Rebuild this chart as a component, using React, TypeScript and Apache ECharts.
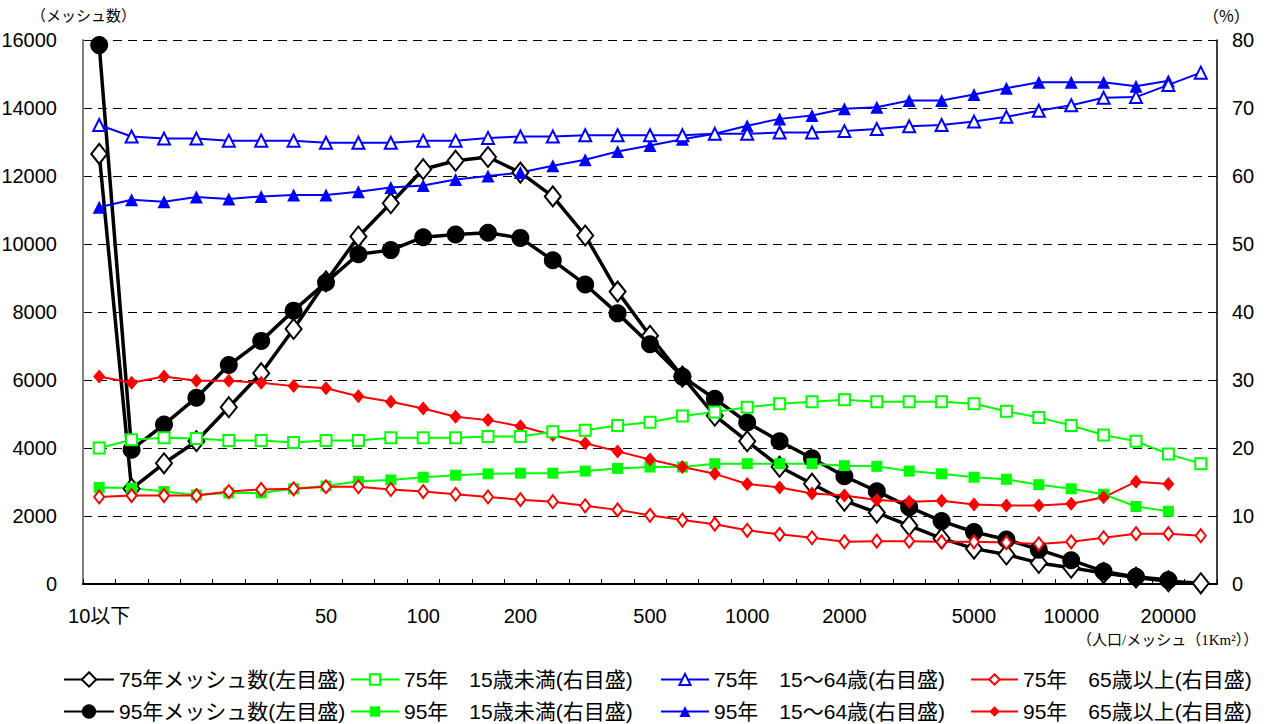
import React, { useEffect, useRef } from 'react';
import * as echarts from 'echarts';

// x categories: population per mesh (log-spaced classes)
const densityClasses = ['10以下', '13', '16', '20', '25', '32', '40', '50', '63', '79', '100', '126', '158', '200', '251', '316', '398', '501', '631', '794', '1000', '1259', '1585', '1995', '2512', '3162', '3981', '5012', '6310', '7943', '10000', '12589', '15849', '19953', '25119'];
const xTickLabelIndex = [0, 7, 10, 13, 17, 20, 23, 27, 30, 33];
const xTickLabelText = ['10以下', '50', '100', '200', '500', '1000', '2000', '5000', '10000', '20000'];

const leftAxisMax = 16000;
const leftAxisStep = 2000;
const rightAxisMax = 80;
const rightAxisStep = 10;

const seriesNames = [
  '75年メッシュ数(左目盛)',
  '95年メッシュ数(左目盛)',
  '75年　15歳未満(右目盛)',
  '95年　15歳未満(右目盛)',
  '75年　15～64歳(右目盛)',
  '95年　15～64歳(右目盛)',
  '75年　65歳以上(右目盛)',
  '95年　65歳以上(右目盛)',
];

const mesh75 = [12650, 2800, 3550, 4200, 5200, 6200, 7500, 8900, 10220, 11200, 12200, 12450, 12560, 12100, 11400, 10250, 8600, 7300, 6100, 4950, 4200, 3450, 2950, 2450, 2100, 1720, 1340, 1040, 870, 620, 480, 320, 190, 80, 20];
const mesh95 = [15850, 3950, 4690, 5480, 6440, 7150, 8040, 8870, 9700, 9820, 10200, 10280, 10330, 10180, 9520, 8810, 7960, 7050, 6100, 5450, 4750, 4200, 3700, 3170, 2730, 2260, 1850, 1530, 1310, 1010, 700, 370, 210, 120, null];
const under15y75 = [20.0, 21.2, 21.5, 21.4, 21.1, 21.1, 20.8, 21.1, 21.1, 21.5, 21.5, 21.5, 21.7, 21.7, 22.4, 22.6, 23.3, 23.8, 24.7, 25.3, 26.0, 26.5, 26.8, 27.1, 26.8, 26.8, 26.8, 26.5, 25.4, 24.5, 23.3, 21.9, 21.0, 19.1, 17.7];
const under15y95 = [14.2, 14.1, 13.6, 13.1, 13.4, 13.4, 14.0, 14.4, 15.1, 15.3, 15.7, 16.0, 16.2, 16.3, 16.3, 16.6, 17.0, 17.2, 17.2, 17.7, 17.7, 17.7, 17.7, 17.4, 17.3, 16.6, 16.2, 15.7, 15.4, 14.6, 14.0, 13.2, 11.4, 10.7, null];
const working75 = [67.5, 65.8, 65.5, 65.5, 65.2, 65.2, 65.2, 64.9, 64.9, 64.9, 65.2, 65.2, 65.6, 65.8, 65.8, 66.0, 66.0, 66.0, 66.0, 66.2, 66.2, 66.4, 66.4, 66.6, 66.9, 67.3, 67.5, 68.0, 68.7, 69.6, 70.4, 71.5, 71.6, 73.4, 75.2];
const working95 = [55.4, 56.5, 56.2, 56.9, 56.6, 57.0, 57.2, 57.2, 57.7, 58.3, 58.6, 59.5, 60.0, 60.5, 61.5, 62.4, 63.6, 64.5, 65.4, 66.2, 67.4, 68.4, 68.9, 69.9, 70.1, 71.1, 71.1, 72.0, 72.9, 73.8, 73.8, 73.8, 73.2, 74.0, null];
const over65y75 = [12.8, 13.0, 13.0, 13.0, 13.6, 13.9, 14.0, 14.3, 14.3, 13.9, 13.6, 13.2, 12.8, 12.4, 12.1, 11.5, 10.9, 10.1, 9.4, 8.8, 7.9, 7.3, 6.8, 6.2, 6.3, 6.3, 6.2, 6.2, 6.1, 5.9, 6.2, 6.8, 7.4, 7.4, 7.1];
const over65y95 = [30.5, 29.6, 30.5, 29.9, 29.9, 29.6, 29.1, 28.8, 27.6, 26.8, 25.8, 24.6, 24.1, 23.2, 21.9, 20.7, 19.5, 18.3, 17.2, 16.2, 14.7, 14.2, 13.3, 13.0, 12.35, 12.1, 12.25, 11.7, 11.55, 11.55, 11.8, 12.75, 15.05, 14.7, null];

const FONT = "'Liberation Sans Narrow', 'Liberation Sans', 'Noto Sans CJK JP', sans-serif";
const BLACK = '#000000';
const GREEN = '#00ff00';
const BLUE = '#0000ff';
const RED = '#ff0000';

function App() {
  const ref = useRef<HTMLDivElement>(null);

  useEffect(() => {
    if (!ref.current) return;
    const chart = echarts.init(ref.current, null, { renderer: 'svg' });

    const mk = (
      name: string,
      data: (number | null)[],
      color: string,
      symbol: string,
      symbolSize: number | number[],
      lineWidth: number,
      yAxisIndex: number,
      filled: boolean
    ) => ({
      name,
      type: 'line',
      data,
      yAxisIndex,
      symbol,
      symbolSize,
      showSymbol: true,
      lineStyle: { color, width: lineWidth },
      itemStyle: { color, borderColor: color, borderWidth: filled ? 0 : 1.6 },
      emphasis: { disabled: true },
    });

    const legendPos = [
      { left: 63, w: 50, h: 18 },
      { left: 350, w: 48, h: 13 },
      { left: 660, w: 48, h: 14 },
      { left: 970, w: 47, h: 13 },
    ];
    const legendOrderRow1 = [seriesNames[0], seriesNames[2], seriesNames[4], seriesNames[6]];
    const legendOrderRow2 = [seriesNames[1], seriesNames[3], seriesNames[5], seriesNames[7]];
    const legends: any[] = [];
    [legendOrderRow1, legendOrderRow2].forEach((row, r) => {
      row.forEach((name, c) => {
        legends.push({
          data: [name],
          left: legendPos[c].left,
          top: r === 0 ? 669 : 701,
          padding: 0,
          itemWidth: legendPos[c].w,
          itemHeight: legendPos[c].h,
          selectedMode: false,
          textStyle: { fontSize: 21, color: '#000', fontFamily: FONT },
        });
      });
    });

    const option: any = {
      animation: false,
      backgroundColor: '#ffffff',
      textStyle: { fontFamily: FONT },
      grid: { left: 83, right: 49, top: 40, bottom: 140, containLabel: false, outerBoundsMode: 'none' },
      legend: legends,
      xAxis: {
        type: 'category',
        data: densityClasses,
        boundaryGap: true,
        axisLine: { lineStyle: { color: BLACK, width: 2 } },
        axisTick: { show: true, inside: true, length: 5, interval: 0, lineStyle: { color: BLACK, width: 1 } },
        axisLabel: {
          interval: (index: number) => xTickLabelIndex.indexOf(index) >= 0,
          formatter: (_v: string, index: number) => {
            const k = xTickLabelIndex.indexOf(index);
            return k >= 0 ? xTickLabelText[k] : '';
          },
          margin: 22,
          fontSize: 20,
          color: '#000',
          fontFamily: FONT,
        },
        splitLine: { show: false },
      },
      yAxis: [
        {
          type: 'value',
          min: 0,
          max: leftAxisMax,
          interval: leftAxisStep,
          position: 'left',
          axisLine: { show: true, lineStyle: { color: '#808080', width: 2 } },
          axisTick: { show: false },
          axisLabel: { fontSize: 20, color: '#000', margin: 26, fontFamily: FONT, formatter: (v: number) => String(v) },
          splitLine: { show: true, lineStyle: { color: '#000', width: 1, type: [9, 6] } },
        },
        {
          type: 'value',
          min: 0,
          max: rightAxisMax,
          interval: rightAxisStep,
          position: 'right',
          axisLine: { show: true, lineStyle: { color: '#000', width: 1.5 } },
          axisTick: { show: false },
          axisLabel: { fontSize: 20, color: '#000', margin: 15, fontFamily: FONT, formatter: (v: number) => String(v) },
          splitLine: { show: false },
        },
      ],
      graphic: [
        {
          type: 'text', x: 31, y: 14,
          style: { text: '（メッシュ数）', fontSize: 15, fill: '#000', fontFamily: "'Noto Sans CJK JP', sans-serif", verticalAlign: 'middle' },
        },
        {
          type: 'text', x: 1203, y: 15,
          style: { text: '（%）', fontSize: 16, fill: '#000', fontFamily: "'Noto Sans CJK JP', sans-serif", verticalAlign: 'middle' },
        },
        {
          type: 'text', x: 1077, y: 640,
          style: { text: '（人口/メッシュ（1Km²））', fontSize: 15, fill: '#000', fontFamily: "'Liberation Serif', 'Noto Sans CJK JP', serif", verticalAlign: 'middle' },
        },
      ],
      series: [
        mk(seriesNames[0], mesh75, BLACK, 'emptyDiamond', [16, 20], 3.5, 0, false),
        mk(seriesNames[1], mesh95, BLACK, 'circle', 18, 3.5, 0, true),
        mk(seriesNames[3], under15y95, GREEN, 'rect', 11, 2, 1, true),
        mk(seriesNames[5], working95, BLUE, 'triangle', 13, 2, 1, true),
        mk(seriesNames[7], over65y95, RED, 'diamond', [12, 14], 2, 1, true),
        mk(seriesNames[2], under15y75, GREEN, 'emptyRect', 11, 2, 1, false),
        mk(seriesNames[4], working75, BLUE, 'emptyTriangle', 12, 2, 1, false),
        mk(seriesNames[6], over65y75, RED, 'emptyDiamond', [10, 13], 2, 1, false),
      ],
    };

    chart.setOption(option);
    return () => {
      chart.dispose();
    };
  }, []);

  return (
    <div
      ref={ref}
      style={{ position: 'fixed', left: 0, top: 0, width: 1266, height: 724, background: '#fff' }}
    />
  );
}

export default App;
